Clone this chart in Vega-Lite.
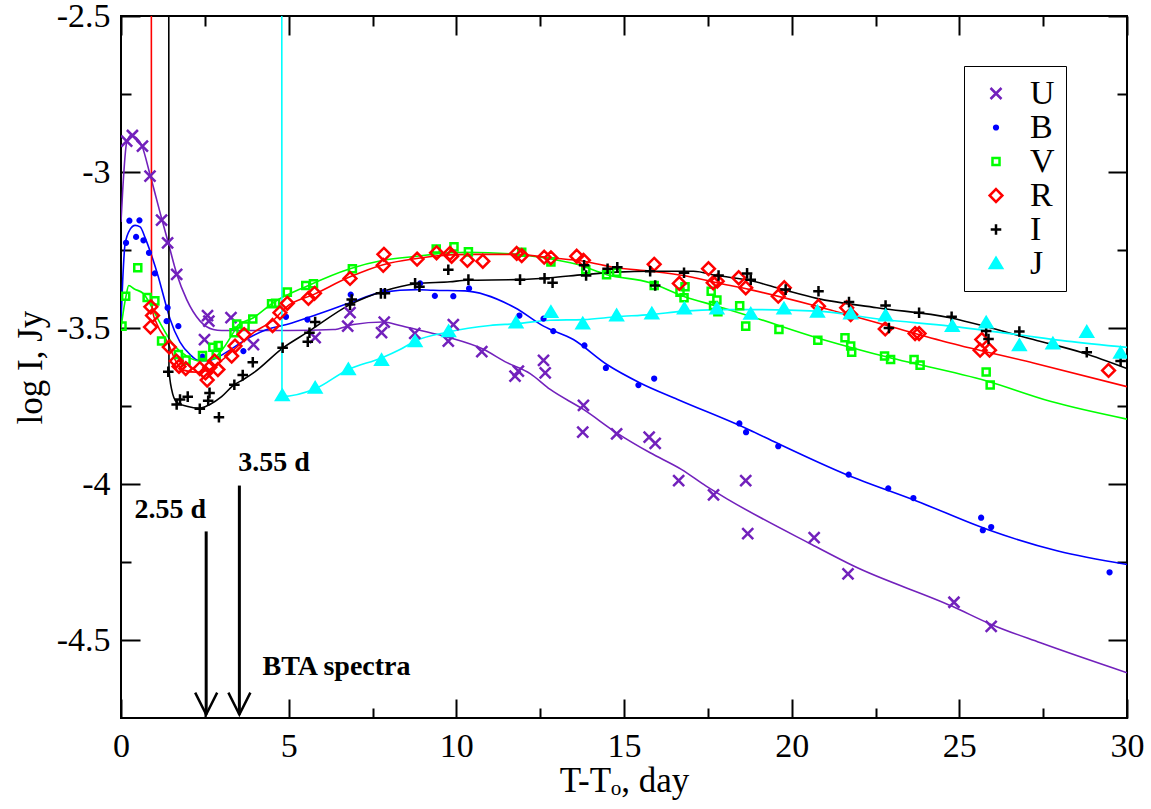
{
  "$schema": "https://vega.github.io/schema/vega-lite/v6.json",
  "width": 1006,
  "height": 702,
  "autosize": "none",
  "padding": {"left": 121, "top": 16, "right": 24, "bottom": 91},
  "background": "white",
  "datasets": {
    "pts": [
      {"band":"U","t":0.17,"y":-2.901},{"band":"U","t":0.34,"y":-2.883},{"band":"U","t":0.64,"y":-2.917},{"band":"U","t":0.865,"y":-3.013},{"band":"U","t":1.21,"y":-3.154},{"band":"U","t":1.39,"y":-3.227},{"band":"U","t":1.66,"y":-3.328},{"band":"U","t":2.58,"y":-3.46},{"band":"U","t":2.62,"y":-3.478},{"band":"U","t":2.49,"y":-3.537},{"band":"U","t":3.28,"y":-3.467},{"band":"U","t":3.95,"y":-3.553},{"band":"U","t":5.79,"y":-3.531},{"band":"U","t":6.76,"y":-3.494},{"band":"U","t":6.83,"y":-3.451},{"band":"U","t":7.85,"y":-3.481},{"band":"U","t":7.77,"y":-3.515},{"band":"U","t":8.76,"y":-3.517},{"band":"U","t":9.91,"y":-3.489},{"band":"U","t":9.76,"y":-3.542},{"band":"U","t":10.76,"y":-3.576},{"band":"U","t":11.75,"y":-3.654},{"band":"U","t":11.85,"y":-3.638},{"band":"U","t":12.6,"y":-3.604},{"band":"U","t":12.65,"y":-3.644},{"band":"U","t":13.79,"y":-3.748},{"band":"U","t":13.77,"y":-3.834},{"band":"U","t":14.78,"y":-3.839},{"band":"U","t":15.75,"y":-3.85},{"band":"U","t":15.93,"y":-3.87},{"band":"U","t":16.63,"y":-3.989},{"band":"U","t":17.67,"y":-4.035},{"band":"U","t":18.63,"y":-3.989},{"band":"U","t":18.69,"y":-4.159},{"band":"U","t":20.67,"y":-4.172},{"band":"U","t":21.68,"y":-4.288},{"band":"U","t":24.84,"y":-4.379},{"band":"U","t":25.95,"y":-4.456},
      {"band":"B","t":0.15,"y":-3.227},{"band":"B","t":0.25,"y":-3.156},{"band":"B","t":0.55,"y":-3.155},{"band":"B","t":0.45,"y":-3.208},{"band":"B","t":0.67,"y":-3.219},{"band":"B","t":0.835,"y":-3.259},{"band":"B","t":1.01,"y":-3.325},{"band":"B","t":1.39,"y":-3.435},{"band":"B","t":1.36,"y":-3.478},{"band":"B","t":1.71,"y":-3.494},{"band":"B","t":2.43,"y":-3.592},{"band":"B","t":3.65,"y":-3.574},{"band":"B","t":4.92,"y":-3.464},{"band":"B","t":5.56,"y":-3.473},{"band":"B","t":6.85,"y":-3.393},{"band":"B","t":7.85,"y":-3.384},{"band":"B","t":8.92,"y":-3.357},{"band":"B","t":9.36,"y":-3.397},{"band":"B","t":9.91,"y":-3.398},{"band":"B","t":10.38,"y":-3.373},{"band":"B","t":11.88,"y":-3.46},{"band":"B","t":12.6,"y":-3.47},{"band":"B","t":12.89,"y":-3.51},{"band":"B","t":13.82,"y":-3.556},{"band":"B","t":14.46,"y":-3.628},{"band":"B","t":15.43,"y":-3.683},{"band":"B","t":15.9,"y":-3.662},{"band":"B","t":18.44,"y":-3.806},{"band":"B","t":18.64,"y":-3.834},{"band":"B","t":19.6,"y":-3.879},{"band":"B","t":21.7,"y":-3.97},{"band":"B","t":22.88,"y":-4.014},{"band":"B","t":23.63,"y":-4.045},{"band":"B","t":25.65,"y":-4.108},{"band":"B","t":25.7,"y":-4.148},{"band":"B","t":25.95,"y":-4.138},{"band":"B","t":29.48,"y":-4.283},
      {"band":"V","t":0.03,"y":-3.494},{"band":"V","t":0.14,"y":-3.398},{"band":"V","t":0.5,"y":-3.307},{"band":"V","t":0.78,"y":-3.402},{"band":"V","t":1.01,"y":-3.413},{"band":"V","t":1.21,"y":-3.542},{"band":"V","t":1.71,"y":-3.585},{"band":"V","t":1.94,"y":-3.603},{"band":"V","t":2.43,"y":-3.588},{"band":"V","t":2.74,"y":-3.562},{"band":"V","t":2.9,"y":-3.556},{"band":"V","t":2.84,"y":-3.585},{"band":"V","t":3.37,"y":-3.515},{"band":"V","t":3.45,"y":-3.487},{"band":"V","t":3.7,"y":-3.494},{"band":"V","t":3.93,"y":-3.471},{"band":"V","t":4.49,"y":-3.422},{"band":"V","t":4.61,"y":-3.421},{"band":"V","t":4.96,"y":-3.385},{"band":"V","t":5.51,"y":-3.364},{"band":"V","t":5.74,"y":-3.358},{"band":"V","t":6.9,"y":-3.31},{"band":"V","t":9.4,"y":-3.247},{"band":"V","t":9.93,"y":-3.24},{"band":"V","t":10.36,"y":-3.256},{"band":"V","t":11.95,"y":-3.257},{"band":"V","t":12.82,"y":-3.288},{"band":"V","t":13.86,"y":-3.313},{"band":"V","t":14.48,"y":-3.329},{"band":"V","t":14.78,"y":-3.321},{"band":"V","t":15.9,"y":-3.364},{"band":"V","t":16.67,"y":-3.385},{"band":"V","t":16.82,"y":-3.368},{"band":"V","t":16.79,"y":-3.403},{"band":"V","t":17.6,"y":-3.382},{"band":"V","t":17.77,"y":-3.41},{"band":"V","t":17.67,"y":-3.428},{"band":"V","t":17.8,"y":-3.448},{"band":"V","t":18.45,"y":-3.429},{"band":"V","t":18.63,"y":-3.494},{"band":"V","t":19.62,"y":-3.505},{"band":"V","t":20.78,"y":-3.539},{"band":"V","t":21.59,"y":-3.531},{"band":"V","t":21.76,"y":-3.558},{"band":"V","t":21.79,"y":-3.578},{"band":"V","t":22.77,"y":-3.59},{"band":"V","t":22.95,"y":-3.601},{"band":"V","t":23.65,"y":-3.601},{"band":"V","t":23.83,"y":-3.619},{"band":"V","t":25.8,"y":-3.641},{"band":"V","t":25.92,"y":-3.683},
      {"band":"R","t":0.89,"y":-3.432},{"band":"R","t":0.94,"y":-3.46},{"band":"R","t":0.88,"y":-3.497},{"band":"R","t":1.44,"y":-3.561},{"band":"R","t":1.65,"y":-3.606},{"band":"R","t":1.73,"y":-3.623},{"band":"R","t":1.93,"y":-3.63},{"band":"R","t":2.35,"y":-3.63},{"band":"R","t":2.52,"y":-3.644},{"band":"R","t":2.57,"y":-3.667},{"band":"R","t":2.65,"y":-3.626},{"band":"R","t":2.79,"y":-3.606},{"band":"R","t":2.89,"y":-3.633},{"band":"R","t":3.3,"y":-3.59},{"band":"R","t":3.4,"y":-3.558},{"band":"R","t":3.67,"y":-3.521},{"band":"R","t":4.52,"y":-3.492},{"band":"R","t":4.74,"y":-3.451},{"band":"R","t":4.96,"y":-3.421},{"band":"R","t":5.59,"y":-3.405},{"band":"R","t":5.77,"y":-3.389},{"band":"R","t":6.83,"y":-3.341},{"band":"R","t":7.82,"y":-3.299},{"band":"R","t":7.84,"y":-3.264},{"band":"R","t":8.83,"y":-3.279},{"band":"R","t":9.41,"y":-3.259},{"band":"R","t":9.81,"y":-3.261},{"band":"R","t":9.86,"y":-3.27},{"band":"R","t":10.33,"y":-3.283},{"band":"R","t":10.79,"y":-3.286},{"band":"R","t":11.8,"y":-3.261},{"band":"R","t":11.95,"y":-3.268},{"band":"R","t":12.62,"y":-3.273},{"band":"R","t":12.82,"y":-3.275},{"band":"R","t":13.59,"y":-3.27},{"band":"R","t":13.79,"y":-3.283},{"band":"R","t":15.9,"y":-3.296},{"band":"R","t":16.65,"y":-3.357},{"band":"R","t":17.52,"y":-3.31},{"band":"R","t":17.66,"y":-3.355},{"band":"R","t":17.78,"y":-3.35},{"band":"R","t":18.42,"y":-3.339},{"band":"R","t":18.63,"y":-3.371},{"band":"R","t":19.6,"y":-3.398},{"band":"R","t":19.78,"y":-3.371},{"band":"R","t":20.8,"y":-3.43},{"band":"R","t":21.64,"y":-3.435},{"band":"R","t":21.76,"y":-3.457},{"band":"R","t":22.79,"y":-3.503},{"band":"R","t":23.68,"y":-3.518},{"band":"R","t":23.8,"y":-3.518},{"band":"R","t":25.67,"y":-3.537},{"band":"R","t":25.62,"y":-3.571},{"band":"R","t":25.9,"y":-3.571},{"band":"R","t":29.45,"y":-3.636},
      {"band":"I","t":1.41,"y":-3.64},{"band":"I","t":1.66,"y":-3.745},{"band":"I","t":1.76,"y":-3.729},{"band":"I","t":1.99,"y":-3.72},{"band":"I","t":2.35,"y":-3.759},{"band":"I","t":2.6,"y":-3.733},{"band":"I","t":2.64,"y":-3.708},{"band":"I","t":2.92,"y":-3.786},{"band":"I","t":3.38,"y":-3.682},{"band":"I","t":3.63,"y":-3.651},{"band":"I","t":3.93,"y":-3.61},{"band":"I","t":4.82,"y":-3.563},{"band":"I","t":5.57,"y":-3.544},{"band":"I","t":5.62,"y":-3.515},{"band":"I","t":5.79,"y":-3.481},{"band":"I","t":6.83,"y":-3.425},{"band":"I","t":6.88,"y":-3.409},{"band":"I","t":7.75,"y":-3.389},{"band":"I","t":7.87,"y":-3.389},{"band":"I","t":8.77,"y":-3.357},{"band":"I","t":8.9,"y":-3.368},{"band":"I","t":9.76,"y":-3.313},{"band":"I","t":10.36,"y":-3.345},{"band":"I","t":11.9,"y":-3.345},{"band":"I","t":12.63,"y":-3.341},{"band":"I","t":12.87,"y":-3.355},{"band":"I","t":13.81,"y":-3.299},{"band":"I","t":13.87,"y":-3.332},{"band":"I","t":14.51,"y":-3.31},{"band":"I","t":14.8,"y":-3.305},{"band":"I","t":15.78,"y":-3.318},{"band":"I","t":15.93,"y":-3.364},{"band":"I","t":16.79,"y":-3.323},{"band":"I","t":17.82,"y":-3.332},{"band":"I","t":18.67,"y":-3.325},{"band":"I","t":18.78,"y":-3.345},{"band":"I","t":19.82,"y":-3.377},{"band":"I","t":20.8,"y":-3.382},{"band":"I","t":21.71,"y":-3.417},{"band":"I","t":22.8,"y":-3.428},{"band":"I","t":22.9,"y":-3.5},{"band":"I","t":23.8,"y":-3.451},{"band":"I","t":24.77,"y":-3.464},{"band":"I","t":25.8,"y":-3.51},{"band":"I","t":25.87,"y":-3.535},{"band":"I","t":26.79,"y":-3.511},{"band":"I","t":28.8,"y":-3.578},{"band":"I","t":29.81,"y":-3.606},
      {"band":"J","t":4.81,"y":-3.716},{"band":"J","t":5.79,"y":-3.692},{"band":"J","t":6.78,"y":-3.633},{"band":"J","t":7.77,"y":-3.603},{"band":"J","t":8.77,"y":-3.543},{"band":"J","t":9.77,"y":-3.511},{"band":"J","t":11.78,"y":-3.483},{"band":"J","t":12.82,"y":-3.449},{"band":"J","t":13.77,"y":-3.486},{"band":"J","t":14.78,"y":-3.46},{"band":"J","t":15.83,"y":-3.454},{"band":"J","t":16.8,"y":-3.438},{"band":"J","t":17.77,"y":-3.438},{"band":"J","t":18.78,"y":-3.455},{"band":"J","t":19.77,"y":-3.438},{"band":"J","t":20.77,"y":-3.448},{"band":"J","t":21.76,"y":-3.454},{"band":"J","t":22.8,"y":-3.46},{"band":"J","t":24.79,"y":-3.494},{"band":"J","t":25.8,"y":-3.483},{"band":"J","t":26.79,"y":-3.556},{"band":"J","t":27.79,"y":-3.55},{"band":"J","t":28.8,"y":-3.513},{"band":"J","t":29.81,"y":-3.58}
    ],
    "curves": [
      {"band":"U","t":0,"y":-3.16},{"band":"U","t":0.05,"y":-3.06},{"band":"U","t":0.17,"y":-2.905},{"band":"U","t":0.3,"y":-2.882},{"band":"U","t":0.45,"y":-2.89},{"band":"U","t":0.62,"y":-2.915},{"band":"U","t":0.865,"y":-3.008},{"band":"U","t":1.21,"y":-3.148},{"band":"U","t":1.41,"y":-3.227},{"band":"U","t":1.66,"y":-3.326},{"band":"U","t":1.96,"y":-3.409},{"band":"U","t":2.36,"y":-3.478},{"band":"U","t":2.75,"y":-3.505},{"band":"U","t":3.0,"y":-3.508},{"band":"U","t":4.0,"y":-3.508},{"band":"U","t":5.0,"y":-3.508},{"band":"U","t":6.33,"y":-3.505},{"band":"U","t":6.93,"y":-3.489},{"band":"U","t":7.82,"y":-3.481},{"band":"U","t":8.32,"y":-3.492},{"band":"U","t":8.82,"y":-3.505},{"band":"U","t":9.76,"y":-3.53},{"band":"U","t":10.76,"y":-3.566},{"band":"U","t":11.51,"y":-3.611},{"band":"U","t":12.2,"y":-3.646},{"band":"U","t":12.8,"y":-3.697},{"band":"U","t":13.79,"y":-3.761},{"band":"U","t":14.78,"y":-3.836},{"band":"U","t":15.78,"y":-3.9},{"band":"U","t":16.71,"y":-3.953},{"band":"U","t":17.45,"y":-4.007},{"band":"U","t":18.11,"y":-4.05},{"band":"U","t":20.6,"y":-4.194},{"band":"U","t":21.85,"y":-4.263},{"band":"U","t":24.79,"y":-4.392},{"band":"U","t":25.95,"y":-4.45},{"band":"U","t":27.42,"y":-4.509},{"band":"U","t":30,"y":-4.605},
      {"band":"B","t":0,"y":-3.48},{"band":"B","t":0.05,"y":-3.35},{"band":"B","t":0.12,"y":-3.232},{"band":"B","t":0.27,"y":-3.184},{"band":"B","t":0.42,"y":-3.171},{"band":"B","t":0.57,"y":-3.176},{"band":"B","t":0.72,"y":-3.211},{"band":"B","t":0.92,"y":-3.27},{"band":"B","t":1.11,"y":-3.335},{"band":"B","t":1.3,"y":-3.41},{"band":"B","t":1.46,"y":-3.47},{"band":"B","t":1.76,"y":-3.545},{"band":"B","t":2.06,"y":-3.585},{"band":"B","t":2.31,"y":-3.604},{"band":"B","t":2.6,"y":-3.605},{"band":"B","t":2.95,"y":-3.59},{"band":"B","t":3.3,"y":-3.567},{"band":"B","t":3.65,"y":-3.542},{"band":"B","t":4.35,"y":-3.505},{"band":"B","t":4.94,"y":-3.489},{"band":"B","t":5.84,"y":-3.457},{"band":"B","t":6.83,"y":-3.419},{"band":"B","t":7.82,"y":-3.385},{"band":"B","t":8.82,"y":-3.377},{"band":"B","t":9.31,"y":-3.379},{"band":"B","t":10.26,"y":-3.381},{"band":"B","t":11.75,"y":-3.435},{"band":"B","t":12.6,"y":-3.494},{"band":"B","t":13.49,"y":-3.537},{"band":"B","t":14.49,"y":-3.617},{"band":"B","t":15.48,"y":-3.676},{"band":"B","t":16.6,"y":-3.729},{"band":"B","t":18.71,"y":-3.825},{"band":"B","t":19.55,"y":-3.868},{"band":"B","t":21.64,"y":-3.97},{"band":"B","t":23.74,"y":-4.055},{"band":"B","t":25.84,"y":-4.146},{"band":"B","t":27.94,"y":-4.215},{"band":"B","t":30,"y":-4.258},
      {"band":"V","t":0,"y":-3.5},{"band":"V","t":0.08,"y":-3.44},{"band":"V","t":0.15,"y":-3.398},{"band":"V","t":0.23,"y":-3.364},{"band":"V","t":0.4,"y":-3.375},{"band":"V","t":0.67,"y":-3.39},{"band":"V","t":0.9,"y":-3.43},{"band":"V","t":1.16,"y":-3.483},{"band":"V","t":1.56,"y":-3.553},{"band":"V","t":1.96,"y":-3.59},{"band":"V","t":2.36,"y":-3.606},{"band":"V","t":2.7,"y":-3.601},{"band":"V","t":3.05,"y":-3.565},{"band":"V","t":3.35,"y":-3.515},{"band":"V","t":3.5,"y":-3.49},{"band":"V","t":3.95,"y":-3.467},{"band":"V","t":4.54,"y":-3.419},{"band":"V","t":5.54,"y":-3.366},{"band":"V","t":6.83,"y":-3.31},{"band":"V","t":7.82,"y":-3.283},{"band":"V","t":8.82,"y":-3.27},{"band":"V","t":9.81,"y":-3.259},{"band":"V","t":10.31,"y":-3.257},{"band":"V","t":11.8,"y":-3.264},{"band":"V","t":12.6,"y":-3.275},{"band":"V","t":13.59,"y":-3.296},{"band":"V","t":14.49,"y":-3.329},{"band":"V","t":15.78,"y":-3.355},{"band":"V","t":16.77,"y":-3.398},{"band":"V","t":17.77,"y":-3.43},{"band":"V","t":18.76,"y":-3.462},{"band":"V","t":20.75,"y":-3.531},{"band":"V","t":22.73,"y":-3.59},{"band":"V","t":25.82,"y":-3.67},{"band":"V","t":27.71,"y":-3.735},{"band":"V","t":30,"y":-3.792},
      {"band":"R","t":0.905,"y":-2.5},{"band":"R","t":0.91,"y":-3.4},{"band":"R","t":0.95,"y":-3.45},{"band":"R","t":1.06,"y":-3.485},{"band":"R","t":1.41,"y":-3.55},{"band":"R","t":1.61,"y":-3.601},{"band":"R","t":1.86,"y":-3.635},{"band":"R","t":2.26,"y":-3.642},{"band":"R","t":2.65,"y":-3.632},{"band":"R","t":3.05,"y":-3.6},{"band":"R","t":3.55,"y":-3.552},{"band":"R","t":3.95,"y":-3.515},{"band":"R","t":4.54,"y":-3.475},{"band":"R","t":4.94,"y":-3.432},{"band":"R","t":5.74,"y":-3.393},{"band":"R","t":6.83,"y":-3.336},{"band":"R","t":7.82,"y":-3.297},{"band":"R","t":8.82,"y":-3.277},{"band":"R","t":9.31,"y":-3.27},{"band":"R","t":10.31,"y":-3.264},{"band":"R","t":11.8,"y":-3.264},{"band":"R","t":12.8,"y":-3.275},{"band":"R","t":13.79,"y":-3.286},{"band":"R","t":14.78,"y":-3.307},{"band":"R","t":15.78,"y":-3.318},{"band":"R","t":16.77,"y":-3.332},{"band":"R","t":17.77,"y":-3.355},{"band":"R","t":18.76,"y":-3.377},{"band":"R","t":20.75,"y":-3.43},{"band":"R","t":22.73,"y":-3.489},{"band":"R","t":24.72,"y":-3.548},{"band":"R","t":27.21,"y":-3.612},{"band":"R","t":30,"y":-3.688},
      {"band":"I","t":1.425,"y":-2.5},{"band":"I","t":1.43,"y":-3.63},{"band":"I","t":1.51,"y":-3.697},{"band":"I","t":1.66,"y":-3.738},{"band":"I","t":1.96,"y":-3.751},{"band":"I","t":2.36,"y":-3.757},{"band":"I","t":2.65,"y":-3.745},{"band":"I","t":3.0,"y":-3.72},{"band":"I","t":3.35,"y":-3.684},{"band":"I","t":3.65,"y":-3.665},{"band":"I","t":3.95,"y":-3.644},{"band":"I","t":4.84,"y":-3.563},{"band":"I","t":5.54,"y":-3.515},{"band":"I","t":6.83,"y":-3.425},{"band":"I","t":7.82,"y":-3.382},{"band":"I","t":8.82,"y":-3.358},{"band":"I","t":9.81,"y":-3.352},{"band":"I","t":10.31,"y":-3.347},{"band":"I","t":11.8,"y":-3.345},{"band":"I","t":12.8,"y":-3.339},{"band":"I","t":13.79,"y":-3.329},{"band":"I","t":14.78,"y":-3.321},{"band":"I","t":15.78,"y":-3.318},{"band":"I","t":17.07,"y":-3.318},{"band":"I","t":17.77,"y":-3.332},{"band":"I","t":18.73,"y":-3.347},{"band":"I","t":19.75,"y":-3.377},{"band":"I","t":20.75,"y":-3.405},{"band":"I","t":22.54,"y":-3.435},{"band":"I","t":24.72,"y":-3.467},{"band":"I","t":25.92,"y":-3.499},{"band":"I","t":27.21,"y":-3.537},{"band":"I","t":28.7,"y":-3.58},{"band":"I","t":30,"y":-3.63},
      {"band":"J","t":4.795,"y":-2.5},{"band":"J","t":4.8,"y":-3.72},{"band":"J","t":5.79,"y":-3.695},{"band":"J","t":6.78,"y":-3.633},{"band":"J","t":7.77,"y":-3.596},{"band":"J","t":8.32,"y":-3.569},{"band":"J","t":8.77,"y":-3.542},{"band":"J","t":9.76,"y":-3.513},{"band":"J","t":11.0,"y":-3.492},{"band":"J","t":11.8,"y":-3.486},{"band":"J","t":12.8,"y":-3.475},{"band":"J","t":13.79,"y":-3.473},{"band":"J","t":14.78,"y":-3.464},{"band":"J","t":15.78,"y":-3.457},{"band":"J","t":16.77,"y":-3.446},{"band":"J","t":17.77,"y":-3.441},{"band":"J","t":18.76,"y":-3.441},{"band":"J","t":20.75,"y":-3.446},{"band":"J","t":22.73,"y":-3.473},{"band":"J","t":24.72,"y":-3.494},{"band":"J","t":26.71,"y":-3.521},{"band":"J","t":28.2,"y":-3.542},{"band":"J","t":30,"y":-3.562}
    ],
    "arrows": [
      {"t": 2.54, "y1": -4.152, "y2": -4.739},
      {"t": 3.53, "y1": -4.005, "y2": -4.739}
    ],
    "notes": [
      {"t": 0.4, "y": -4.108, "label": "2.55 d"},
      {"t": 3.5, "y": -3.959, "label": "3.55 d"},
      {"t": 4.22, "y": -4.611, "label": "BTA spectra"}
    ]
  },
  "resolve": {"axis": {"x": "independent", "y": "independent"}},
  "layer": [
    {
      "data": {"name": "curves"},
      "mark": {"type": "line", "strokeWidth": 1.6, "interpolate": "monotone", "clip": true},
      "encoding": {
        "x": {"field": "t", "type": "quantitative", "scale": {"domain": [0, 30], "nice": false, "zero": false},
          "axis": {"orient": "bottom", "values": [0, 5, 10, 15, 20, 25, 30], "tickSize": -19, "labelPadding": 30, "labelExpr": "'' + datum.value", "title": "T-Tₒ, day", "titlePadding": 0}},
        "y": {"field": "y", "type": "quantitative", "scale": {"domain": [-4.75, -2.5], "nice": false, "zero": false},
          "axis": {"orient": "left", "values": [-4.5, -4, -3.5, -3, -2.5], "tickSize": -19, "labelPadding": 30, "labelExpr": "'' + datum.value", "title": "log I, Jy", "titlePadding": 8}},
        "stroke": {"field": "band", "type": "nominal", "legend": null,
          "scale": {"domain": ["J", "I", "R", "V", "B", "U"], "range": ["#00ffff", "#000000", "#ff0000", "#00ff00", "#0000ff", "#7221bc"]}},
        "order": {"field": "t", "type": "quantitative"}
      }
    },
    {
      "data": {"name": "pts"},
      "mark": {"type": "point", "filled": false, "opacity": 1, "size": 484, "strokeWidth": 2.5, "clip": true},
      "encoding": {
        "x": {"field": "t", "type": "quantitative",
          "axis": {"orient": "top", "values": [0, 5, 10, 15, 20, 25, 30], "tickSize": -19, "labels": false, "title": null}},
        "y": {"field": "y", "type": "quantitative",
          "axis": {"orient": "right", "values": [-4.5, -4, -3.5, -3, -2.5], "tickSize": -19, "labels": false, "title": null}},
        "shape": {"field": "band", "type": "nominal",
          "scale": {"domain": ["U", "B", "V", "R", "I", "J"], "range": [
            "M-0.5,-0.5L0.5,0.5M-0.5,0.5L0.5,-0.5",
            "M-0.17,0A0.17,0.17,0,1,0,0.17,0A0.17,0.17,0,1,0,-0.17,0Z",
            "M-0.32,-0.32L0.32,-0.32L0.32,0.32L-0.32,0.32Z",
            "M0,-0.58L0.58,0L0,0.58L-0.58,0Z",
            "M-0.48,0L0.48,0M0,-0.48L0,0.48",
            "M-0.55,0.42L0.55,0.42L0,-0.5Z"]},
          "legend": {"orient": "none", "legendX": 843, "legendY": 50, "title": null, "zindex": 2}},
        "color": {"field": "band", "type": "nominal",
          "scale": {"domain": ["U", "B", "V", "R", "I", "J"], "range": ["#7221bc", "#0000ff", "#00ff00", "#ff0000", "#000000", "#00ffff"]},
          "legend": {"orient": "none", "legendX": 843, "legendY": 50, "title": null, "zindex": 2}},
        "fill": {"field": "band", "type": "nominal",
          "scale": {"domain": ["U", "B", "V", "R", "I", "J"], "range": ["transparent", "#0000ff", "transparent", "transparent", "transparent", "#00ffff"]},
          "legend": {"orient": "none", "legendX": 843, "legendY": 50, "title": null, "zindex": 2}}
      }
    },
    {
      "data": {"name": "arrows"},
      "mark": {"type": "rule", "strokeWidth": 3, "color": "black"},
      "encoding": {
        "x": {"field": "t", "type": "quantitative",
          "axis": {"orient": "bottom", "values": [2.5, 7.5, 12.5, 17.5, 22.5, 27.5], "tickSize": -10, "labels": false, "title": null}},
        "y": {"field": "y1", "type": "quantitative",
          "axis": {"orient": "left", "values": [-4.25, -3.75, -3.25, -2.75], "tickSize": -10, "labels": false, "title": null}},
        "y2": {"field": "y2"}
      }
    },
    {
      "data": {"name": "arrows"},
      "mark": {"type": "point", "shape": "M-1,-2L0,0L1,-2", "size": 484, "filled": false, "stroke": "black", "strokeWidth": 2.5, "opacity": 1},
      "encoding": {
        "x": {"field": "t", "type": "quantitative",
          "axis": {"orient": "top", "values": [2.5, 7.5, 12.5, 17.5, 22.5, 27.5], "tickSize": -10, "labels": false, "title": null}},
        "y": {"field": "y2", "type": "quantitative",
          "axis": {"orient": "right", "values": [-4.25, -3.75, -3.25, -2.75], "tickSize": -10, "labels": false, "title": null}}
      }
    },
    {
      "data": {"name": "notes"},
      "mark": {"type": "text", "font": "Liberation Serif", "fontWeight": "bold", "fontSize": 28, "align": "left", "baseline": "alphabetic", "color": "black"},
      "encoding": {
        "x": {"field": "t", "type": "quantitative", "axis": null},
        "y": {"field": "y", "type": "quantitative", "axis": null},
        "text": {"field": "label"}
      }
    }
  ],
  "config": {
    "font": "Liberation Serif",
    "view": {"stroke": "black", "strokeWidth": 2},
    "axis": {
      "grid": false, "domain": false, "tickColor": "black", "tickWidth": 2,
      "labelFont": "Liberation Serif", "labelFontSize": 34, "labelColor": "black",
      "titleFont": "Liberation Serif", "titleFontSize": 35, "titleFontWeight": "normal", "titleColor": "black",
      "labelFlush": false, "labelOverlap": false
    },
    "legend": {
      "strokeColor": "black", "padding": 10.5,
      "labelFont": "Liberation Serif", "labelFontSize": 34, "labelColor": "black",
      "labelOffset": 17, "symbolOffset": 4.5, "symbolSize": 484, "symbolStrokeWidth": 2.5,
      "rowPadding": 0, "fillColor": "white"
    }
  }
}
